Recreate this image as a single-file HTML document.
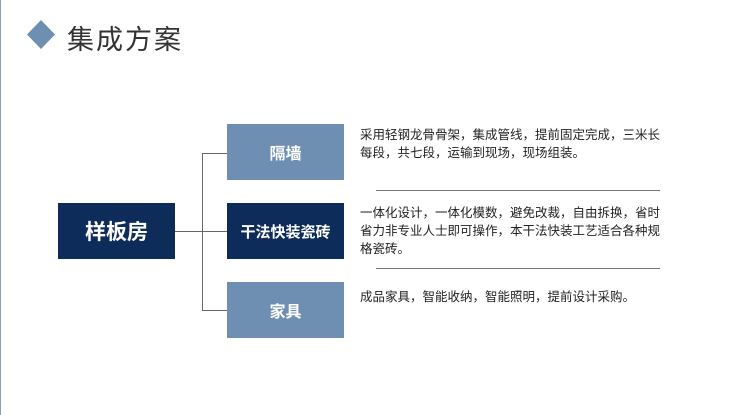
<!DOCTYPE html>
<html><head><meta charset="utf-8"><style>
body{margin:0;width:741px;height:415px;background:#fff;position:relative;overflow:hidden;font-family:"Liberation Sans","Noto Sans CJK SC",sans-serif}
.a{position:absolute}
.box{position:absolute;color:#fff;display:flex;align-items:center;justify-content:center;font-weight:bold}
.l{background:#6f8fb2;width:117px;height:56px;left:227px;font-size:16px}
.d{background:#0d2c5a}
.t{position:absolute;left:360px;font-size:12.5px;line-height:18px;color:#222;width:300px}
.sep{position:absolute;left:376px;width:284px;height:1px;background:#777}
.ln{position:absolute;background:#666}
</style></head><body>
<div class="a" style="left:0;top:0;width:1px;height:415px;background:#8aa0b8"></div>
<svg class="a" style="left:26px;top:20px" width="30" height="29"><polygon points="15,0 29,14.5 15,29 1,14.5" fill="#6f8fb2"/></svg>
<div class="a" style="left:67px;top:18px;font-size:27px;color:#333;letter-spacing:2px">集成方案</div>
<div class="box d" style="left:58px;top:203px;width:117px;height:56px;font-size:21px">样板房</div>
<div class="box l" style="top:124px">隔墙</div>
<div class="box l d" style="top:203px;font-size:15px">干法快装瓷砖</div>
<div class="box l" style="top:282px">家具</div>
<div class="ln" style="left:175px;top:231px;width:52px;height:1px"></div>
<div class="ln" style="left:202px;top:153px;width:1px;height:157px"></div>
<div class="ln" style="left:202px;top:153px;width:25px;height:1px"></div>
<div class="ln" style="left:202px;top:310px;width:25px;height:1px"></div>
<div class="t" style="top:126px">采用轻钢龙骨骨架，集成管线，提前固定完成，三米长每段，共七段，运输到现场，现场组装。</div>
<div class="sep" style="top:190px"></div>
<div class="t" style="top:204px">一体化设计，一体化模数，避免改裁，自由拆换，省时省力非专业人士即可操作，本干法快装工艺适合各种规格瓷砖。</div>
<div class="sep" style="top:268px"></div>
<div class="t" style="top:288px">成品家具，智能收纳，智能照明，提前设计采购。</div>
</body></html>
